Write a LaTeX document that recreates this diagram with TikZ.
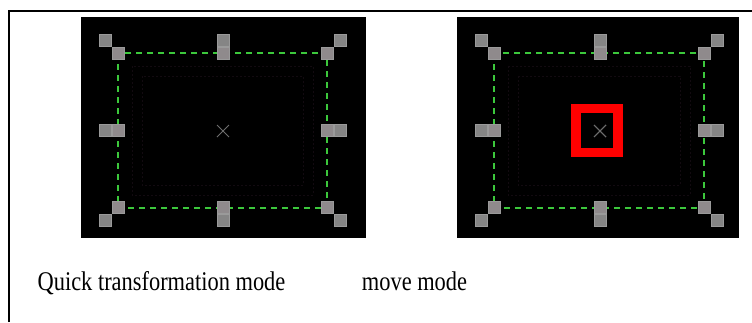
\documentclass[tikz,border=0pt]{standalone}
\usepackage{fontspec}
\setmainfont{Liberation Serif}
\begin{document}
\begin{tikzpicture}[x=1pt,y=-1pt,
  handle/.style={fill=handlegray,draw=handleedge,line width=0.6pt},
  ihandle/.style={fill=handleinner,draw=handleedge,line width=0.6pt},
  selbox/.style={draw=selgreen,line width=1.6pt,dash pattern=on 6pt off 5pt},
  faint/.style={draw=faintline,line width=0.8pt,dash pattern=on 2pt off 2pt},
  cross/.style={draw=crossgray,line width=0.8pt},
  caption/.style={font=\fontsize{27}{32}\selectfont,anchor=base,inner sep=0pt,xscale=0.83}]
\definecolor{handlegray}{HTML}{858585}
\definecolor{handleinner}{HTML}{8F8A8C}
\definecolor{handleedge}{HTML}{9A9A9A}
\definecolor{selgreen}{HTML}{3CC83C}
\definecolor{faintline}{HTML}{120A10}
\definecolor{crossgray}{HTML}{6E6E6E}
\definecolor{selred}{HTML}{FF0000}
\useasboundingbox (0,0) rectangle (752,322);
\fill[white] (0,0) rectangle (752,322);
% table rules
\draw[line width=1.6pt,black] (9,322) -- (9,11) -- (752,11);
% ---------- panel builder ----------
\newcommand{\panel}[5]{% left, right, rectleft, rectright, centerx
  \fill[black] (#1,17) rectangle (#2,238);
  \draw[faint] (#3+14,66) rectangle (#4-14,195);
  \draw[faint] (#3+24,76) rectangle (#4-24,185);
  \draw[selbox] (#3,53) rectangle (#4,208);
  \draw[cross] (#5-6,125) -- (#5+6,137) (#5-6,137) -- (#5+6,125);
  % corners
  \draw[handle] (#3-19,34) rectangle ++(12,12);
  \draw[ihandle] (#3-6,47) rectangle ++(12,12);
  \draw[handle] (#4+7,34) rectangle ++(12,12);
  \draw[ihandle] (#4-6,47) rectangle ++(12,12);
  \draw[ihandle] (#3-6,201) rectangle ++(12,12);
  \draw[handle] (#3-19,214) rectangle ++(12,12);
  \draw[ihandle] (#4-6,201) rectangle ++(12,12);
  \draw[handle] (#4+7,214) rectangle ++(12,12);
  % edge middles
  \draw[handle] (#5-6,34) rectangle ++(12,12);
  \draw[ihandle] (#5-6,47) rectangle ++(12,12);
  \draw[ihandle] (#5-6,201) rectangle ++(12,12);
  \draw[handle] (#5-6,214) rectangle ++(12,12);
  \draw[handle] (#3-19,124) rectangle ++(12,12);
  \draw[ihandle] (#3-6,124) rectangle ++(12,12);
  \draw[ihandle] (#4-6,124) rectangle ++(12,12);
  \draw[handle] (#4+7,124) rectangle ++(12,12);
}
\panel{81}{366}{118}{327}{223}
\panel{457}{739}{494}{704}{600}
% red move box
\draw[selred,line width=9.5pt] (576,108.5) rectangle (618,152.5);
\draw[cross] (594,125) -- (606,137) (594,137) -- (606,125);
% captions
\node[caption] (qt) at (161.5,290) {Quick transformation mode};
\node[caption] (mv) at (414.5,290) {move mode};
\end{tikzpicture}
\end{document}
